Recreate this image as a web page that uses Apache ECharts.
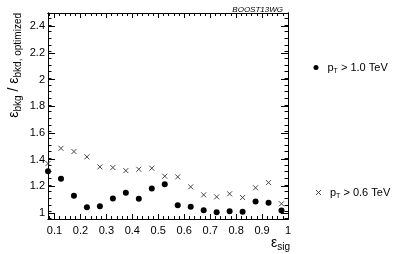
<!DOCTYPE html>
<html>
<head>
<meta charset="utf-8">
<script src="https://cdn.jsdelivr.net/npm/echarts@6/dist/echarts.min.js"></script>
<style>
html,body{margin:0;padding:0;background:#fff}
#main{width:399px;height:254px}
</style>
</head>
<body>
<div id="main"></div>
<script>
'use strict'
// bin centres of the signal efficiency
var effSig = [0.075, 0.125, 0.175, 0.225, 0.275, 0.325, 0.375, 0.425, 0.475, 0.525,
              0.575, 0.625, 0.675, 0.725, 0.775, 0.825, 0.875, 0.925, 0.975];
// pT > 1.0 TeV (dots)
var ratioPt10 = [1.313, 1.256, 1.129, 1.043, 1.051, 1.109, 1.151, 1.106, 1.184, 1.216,
                 1.058, 1.046, 1.021, 1.006, 1.013, 1.009, 1.086, 1.076, 1.019];
// pT > 0.6 TeV (crosses)
var ratioPt06 = [1.371, 1.485, 1.461, 1.421, 1.346, 1.341, 1.318, 1.328, 1.336, 1.276,
                 1.271, 1.196, 1.136, 1.121, 1.144, 1.116, 1.189, 1.228, 1.069];
var xTicks = [0.1, 0.2, 0.3, 0.4, 0.5, 0.6, 0.7, 0.8, 0.9, 1];
var yTicks = [1, 1.2, 1.4, 1.6, 1.8, 2, 2.2, 2.4];
var seriesNames = ['pT > 1.0 TeV', 'pT > 0.6 TeV'];

var xMin = 0.075, xMax = 1, yMin = 0.955, yMax = 2.5;
var font = 'Liberation Sans';
var cross = 'path://M0,0L10,10M0,10L10,0';

function minorTicks(from, to, step, majors) {
    var out = [];
    for (var v = from; v <= to + 1e-9; v += step) {
        var r = Math.round(v * 1000) / 1000;
        if (majors.indexOf(r) < 0) out.push(r);
    }
    return out;
}
var xMinor = minorTicks(0.08, 1, 0.02, xTicks);
var yMinor = minorTicks(0.96, 2.5, 0.05, yTicks);

function axis(kind, pos, ticks, len, withLabels) {
    var a = {
        type: 'value',
        position: pos,
        min: kind === 'x' ? xMin : yMin,
        max: kind === 'x' ? xMax : yMax,
        axisLine: {show: true, onZero: false, lineStyle: {color: '#000', width: 1}},
        axisTick: {show: true, inside: true, length: len, customValues: ticks,
                   lineStyle: {color: '#000', width: 1}},
        axisLabel: {show: false},
        splitLine: {show: false}
    };
    if (withLabels) {
        a.axisLabel = {
            show: true, customValues: ticks, color: '#000',
            fontFamily: font, fontSize: 11,
            margin: kind === 'x' ? 6 : 3,
            formatter: function (v) { return String(Math.round(v * 10) / 10); }
        };
    }
    return a;
}

var rich = {
    p: {fontFamily: font, fontSize: 11, color: '#000', lineHeight: 14},
    s: {fontFamily: font, fontSize: 7, color: '#000', lineHeight: 9, verticalAlign: 'bottom'}
};
var dotStyle = {color: '#000', opacity: 1};
var crossStyle = {color: 'none', borderColor: '#333', borderWidth: 0.9, opacity: 1};

var myChart = echarts.init(document.getElementById('main'));
myChart.setOption({
    animation: false,
    title: {
        text: 'BOOST13WG', right: 111, top: 1,
        textStyle: {fontFamily: font, fontSize: 8, fontStyle: 'italic', fontWeight: 'normal', color: '#000'}
    },
    grid: {left: 48, right: 111, top: 13, bottom: 35},
    xAxis: [
        axis('x', 'bottom', xTicks, 5, true),
        axis('x', 'bottom', xMinor, 3, false),
        axis('x', 'top', xTicks, 5, false),
        axis('x', 'top', xMinor, 3, false)
    ],
    yAxis: [
        axis('y', 'left', yTicks, 7, true),
        axis('y', 'left', yMinor, 3.5, false),
        axis('y', 'right', yTicks, 7, false),
        axis('y', 'right', yMinor, 3.5, false)
    ],
    legend: [0, 1].map(function (i) {
        return {
            data: [seriesNames[i]],
            left: 308.5, top: i === 0 ? 57 : 182,
            itemWidth: 13, itemHeight: 5,
            icon: i === 0 ? 'circle' : cross,
            itemStyle: i === 0 ? dotStyle : crossStyle,
            formatter: function (name) {
                return '{p|p}{s|T}{p|' + name.slice(2) + '}';
            },
            textStyle: {rich: rich}
        };
    }),
    graphic: [
        {
            type: 'text', x: 14, y: 13, rotation: Math.PI / 2,
            style: {
                text: '{e|ε}{s|bkg}{e| / ε}{s|bkd, optimized}',
                align: 'right', verticalAlign: 'middle',
                rich: {
                    e: {fontFamily: font, fontSize: 14, lineHeight: 18, fill: '#000'},
                    s: {fontFamily: font, fontSize: 10, lineHeight: 11, fill: '#000', verticalAlign: 'bottom'}
                }
            }
        },
        {
            type: 'text', x: 290, y: 243,
            style: {
                text: '{e|ε}{s|sig}',
                align: 'right', verticalAlign: 'middle',
                rich: {
                    e: {fontFamily: font, fontSize: 14, lineHeight: 18, fill: '#000'},
                    s: {fontFamily: font, fontSize: 10, lineHeight: 11, fill: '#000', verticalAlign: 'bottom'}
                }
            }
        }
    ],
    series: [
        {
            name: seriesNames[0], type: 'scatter',
            data: effSig.map(function (x, i) { return [x, ratioPt10[i]]; }),
            symbol: 'circle', symbolSize: 6,
            itemStyle: dotStyle
        },
        {
            name: seriesNames[1], type: 'scatter',
            data: effSig.map(function (x, i) { return [x, ratioPt06[i]]; }),
            symbol: cross, symbolSize: 5,
            itemStyle: crossStyle
        }
    ]
});
</script>
</body>
</html>
